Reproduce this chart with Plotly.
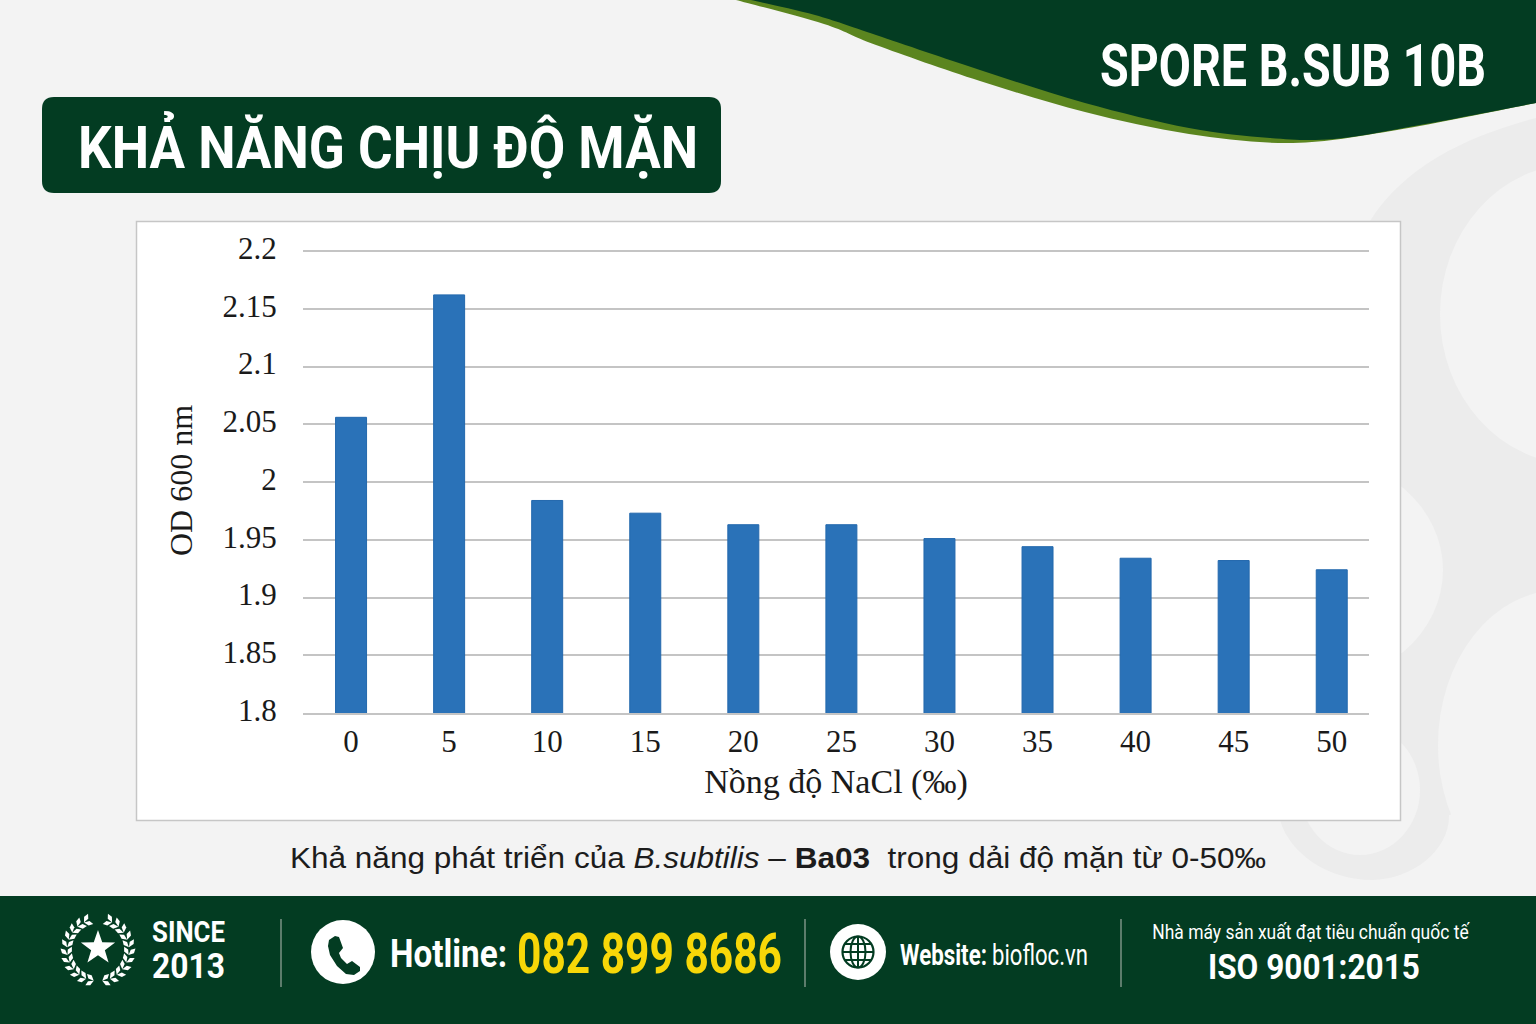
import json
import math
import plotly.graph_objects as go

# ---- data ----
salinity = [0, 5, 10, 15, 20, 25, 30, 35, 40, 45, 50]
od600 = [2.056, 2.162, 1.984, 1.973, 1.963, 1.963, 1.951, 1.944, 1.934, 1.932, 1.924]
y_ticks = [1.8, 1.85, 1.9, 1.95, 2.0, 2.05, 2.1, 2.15, 2.2]
y_tick_labels = ["1.8", "1.85", "1.9", "1.95", "2", "2.05", "2.1", "2.15", "2.2"]

W, H = 1536, 1024
# plot area in page pixels; the top is three pixels above the 2.2 line so that line is kept
PL, PR, PT, PB = 303, 1369, 248, 713
DARK = "#033c22"
GREEN = "#5b851f"
BG = "#f3f3f3"
RING = "#ececec"
SANS = "Roboto"
SERIF = "Liberation Serif"


def X(x):
    return (x - PL) / (PR - PL)


def Y(y):
    return (PB - y) / (PB - PT)


def path(cmds):
    out = []
    for c, pts in cmds:
        out.append(c + " ".join(f"{X(x):.5f},{Y(y):.5f}" for x, y in pts))
    return " ".join(out) + " Z"


def smooth(points):
    cmds = []
    for i in range(len(points) - 1):
        p0 = points[max(i - 1, 0)]
        p1 = points[i]
        p2 = points[i + 1]
        p3 = points[min(i + 2, len(points) - 1)]
        c1 = (p1[0] + (p2[0] - p0[0]) / 6, p1[1] + (p2[1] - p0[1]) / 6)
        c2 = (p2[0] - (p3[0] - p1[0]) / 6, p2[1] - (p3[1] - p1[1]) / 6)
        cmds.append(("C", [c1, c2, p2]))
    return cmds


def poly(pts, fill, line=None, lw=0):
    cmds = [("M", [pts[0]])] + [("L", [p]) for p in pts[1:]]
    return dict(type="path", xref="paper", yref="paper", layer="below",
                path=path(cmds), fillcolor=fill,
                line=dict(width=lw, color=line or fill))


def ell(cx, cy, rx, ry, fill, line=None, lw=0):
    return dict(type="circle", xref="paper", yref="paper", layer="below",
                x0=X(cx - rx), x1=X(cx + rx), y0=Y(cy + ry), y1=Y(cy - ry),
                fillcolor=fill, line=dict(width=lw, color=line or fill))


def rect(x0, y0, x1, y1, fill, line=None, lw=0):
    return dict(type="rect", xref="paper", yref="paper", layer="below",
                x0=X(x0), x1=X(x1), y0=Y(y1), y1=Y(y0),
                fillcolor=fill, line=dict(width=lw, color=line or fill))


def rrect(x0, y0, x1, y1, r, fill):
    cmds = [("M", [(x0 + r, y0)]), ("L", [(x1 - r, y0)]),
            ("Q", [(x1, y0), (x1, y0 + r)]), ("L", [(x1, y1 - r)]),
            ("Q", [(x1, y1), (x1 - r, y1)]), ("L", [(x0 + r, y1)]),
            ("Q", [(x0, y1), (x0, y1 - r)]), ("L", [(x0, y0 + r)]),
            ("Q", [(x0, y0), (x0 + r, y0)])]
    return dict(type="path", xref="paper", yref="paper", layer="below",
                path=path(cmds), fillcolor=fill, line=dict(width=0, color=fill))


def seg(x0, y0, x1, y1, color, lw):
    return dict(type="line", xref="paper", yref="paper", layer="below",
                x0=X(x0), x1=X(x1), y0=Y(y0), y1=Y(y1),
                line=dict(color=color, width=lw))


fit_widths = []


def text(x, y, s, size, width, color="white", family=SANS, anchor="left", bold=False):
    if bold:
        s = f"<b>{s}</b>"
    fit_widths.append(width)
    if anchor == "left":
        x -= 2
    return dict(x=X(x), y=Y(y), xref="paper", yref="paper", text=s, showarrow=False,
                xanchor=anchor, yanchor="middle", align=anchor,
                font=dict(family=family, size=size, color=color))


shapes = []

# faint background blobs
ring = [("M", [(1536, 118)]), ("C", [(1470, 135), (1405, 165), (1370, 221)]),
        ("L", [(1280, 820)]), ("C", [(1290, 855), (1330, 880), (1372, 880)]),
        ("C", [(1412, 880), (1450, 850), (1449, 815)]), ("L", [(1536, 800)])]
shapes.append(dict(type="path", xref="paper", yref="paper", layer="below",
                   path=path(ring), fillcolor=RING, line=dict(width=0, color=RING)))
shapes.append(ell(1575, 314, 135, 150, BG))
shapes.append(ell(1310, 570, 133, 115, BG))
shapes.append(ell(1560, 745, 122, 155, BG))
shapes.append(ell(1360, 790, 60, 65, BG))

# header wave
green_low = [(736, 0), (824, 24), (876, 45), (980, 81), (1085, 112), (1189, 134), (1293, 143), (1397, 130), (1536, 103)]
shapes.append(dict(type="path", xref="paper", yref="paper", layer="below",
                   path=path([("M", [green_low[0]])] + smooth(green_low) + [("L", [(1536, 0)])]),
                   fillcolor=GREEN, line=dict(width=0, color=GREEN)))
dark_low = [(751, 0), (815, 15), (876, 35), (980, 70), (1085, 103), (1189, 128), (1270, 138), (1334, 139), (1420, 125), (1536, 103)]
shapes.append(dict(type="path", xref="paper", yref="paper", layer="below",
                   path=path([("M", [dark_low[0]])] + smooth(dark_low) + [("L", [(1536, 0)])]),
                   fillcolor=DARK, line=dict(width=0, color=DARK)))

# title pill, chart panel, footer
shapes.append(rrect(42, 97, 721, 193, 12, DARK))
shapes.append(rect(136.5, 221.5, 1400.5, 820.5, "white", "#c6c6c6", 1.5))
shapes.append(rect(0, 896, W, H, DARK))
for sx in (281, 805, 1121):
    shapes.append(seg(sx, 919, sx, 987, "#9aa89f", 1.2))

# laurel + star
lx, ly, lr = 98, 950, 31
for side in (-1, 1):
    for k in range(11):
        a = math.radians(8 + k * 14.5)
        cx = lx + side * lr * math.sin(a)
        cy = ly + lr * math.cos(a)
        for off in (-1, 1):
            dx, dy = side * math.cos(a), -math.sin(a)
            ca, sa = math.cos(off * 0.65), math.sin(off * 0.65)
            dx, dy = dx * ca - dy * sa, dx * sa + dy * ca
            nx, ny = -dy, dx
            L, w = 9.5, 2.3
            tip = (cx + dx * L, cy + dy * L)
            mid = (cx + dx * L * .55, cy + dy * L * .55)
            shapes.append(poly([(cx, cy), (mid[0] + nx * w, mid[1] + ny * w), tip,
                                (mid[0] - nx * w, mid[1] - ny * w)], "white"))
star = []
for i in range(10):
    r = 18 if i % 2 == 0 else 7.2
    a = -math.pi / 2 + i * math.pi / 5
    star.append((98 + r * math.cos(a), 948 + r * math.sin(a)))
shapes.append(poly(star, "white"))

# phone icon
shapes.append(ell(343, 952, 32, 32, "white"))
handset = [(329, 940), (335, 936), (339, 937), (343, 948), (339, 953), (341, 958), (347, 964),
           (352, 961), (360, 967), (360, 971), (354, 975), (346, 974), (337, 966), (330, 955), (328, 946)]
shapes.append(poly(handset, DARK))

# globe icon
shapes.append(ell(858, 952, 28, 28, "white"))
shapes.append(ell(858, 952, 15.5, 15.5, "rgba(0,0,0,0)", DARK, 2.2))
shapes.append(ell(858, 952, 7.5, 15.5, "rgba(0,0,0,0)", DARK, 2))
shapes.append(seg(842.5, 952, 873.5, 952, DARK, 2))
shapes.append(seg(845, 944, 871, 944, DARK, 2))
shapes.append(seg(845, 960, 871, 960, DARK, 2))
shapes.append(seg(858, 936.5, 858, 967.5, DARK, 2))

annotations = [
    text(1100, 65, "SPORE B.SUB 10B", 59, 386, bold=True),
    text(78, 147, "KHẢ NĂNG CHỊU ĐỘ MẶN", 60, 620, bold=True),
    text(290, 858, "Khả năng phát triển của <i>B.subtilis</i> – <b>Ba03</b>  trong dải độ mặn từ 0-50‰",
         29, 976, color="#1c1c1c", family="Liberation Sans"),
    text(152, 932, "SINCE", 29, 73, bold=True),
    text(152, 966, "2013", 36, 73, bold=True),
    text(390, 954, "Hotline:", 38, 117, bold=True),
    text(517, 954, "082 899 8686", 55, 265, color="#f7d708", bold=True),
    text(900, 954, "Website:", 30, 87, bold=True),
    text(992, 954, "biofloc.vn", 30, 96),
    text(1311, 932, "Nhà máy sản xuất đạt tiêu chuẩn quốc tế", 21, 318, anchor="center"),
    text(1314, 967, "ISO 9001:2015", 36, 212, anchor="center", bold=True),
]

fig = go.Figure(go.Bar(x=salinity, y=od600, width=1.58,
                       marker=dict(color="#2a72b8", line=dict(color="#2368ad", width=1)),
                       hoverinfo="skip"))

fig.update_layout(
    width=W, height=H, autosize=False,
    margin=dict(l=PL, r=W - PR, t=PT, b=H - PB, pad=0),
    paper_bgcolor=BG, plot_bgcolor="rgba(0,0,0,0)",
    showlegend=False, shapes=shapes, annotations=annotations,
    font=dict(family=SERIF, color="#1a1a1a"),
    xaxis=dict(range=[-2.45, 51.9], tickvals=salinity, ticktext=[str(s) for s in salinity],
               showgrid=False, zeroline=False, showline=True, linecolor="#c4c4c4", linewidth=1.5,
               ticks="",
               tickfont=dict(family=SERIF, size=31, color="#1a1a1a"),
               title=dict(text="Nồng độ NaCl (‰)", standoff=11,
                          font=dict(family=SERIF, size=34, color="#1a1a1a"))),
    yaxis=dict(range=[1.8, 2.2 + 3 * 0.4 / 462], tickvals=y_ticks, ticktext=y_tick_labels,
               showgrid=True, gridcolor="#c4c4c4", gridwidth=1.5, zeroline=False, showline=False,
               ticks="outside", ticklen=19, tickcolor="rgba(0,0,0,0)", ticklabelshift=-3,
               tickfont=dict(family=SERIF, size=31, color="#1a1a1a"),
               title=dict(text="OD 600 nm", standoff=20,
                          font=dict(family=SERIF, size=32, color="#1a1a1a"))),
)

# Narrow the condensed headings horizontally, keeping them as real SVG text.
post = """
document.body.style.margin='0';document.body.style.overflow='hidden';
var gd=document.getElementById('{plot_id}');
var widths=%s;
function fit(){
  gd.querySelectorAll('.annotation').forEach(function(g){
    var i=+g.getAttribute('data-index');var t=g.querySelector('text');
    if(!t||!widths[i])return;
    var b=t.getBBox();if(!b.width)return;
    var sx=widths[i]/b.width;
    var cx=(t.getAttribute('text-anchor')==='middle')?b.x+b.width/2:b.x;
    t.setAttribute('transform','translate('+cx+',0) scale('+sx+',1) translate('+(-cx)+',0)');
  });
}
fit();gd.on('plotly_afterplot',fit);setTimeout(fit,150);
if(document.fonts&&document.fonts.ready){document.fonts.ready.then(fit);}
""" % json.dumps(fit_widths)

fig.write_html("out.html", config=dict(displayModeBar=False), post_script=post)
